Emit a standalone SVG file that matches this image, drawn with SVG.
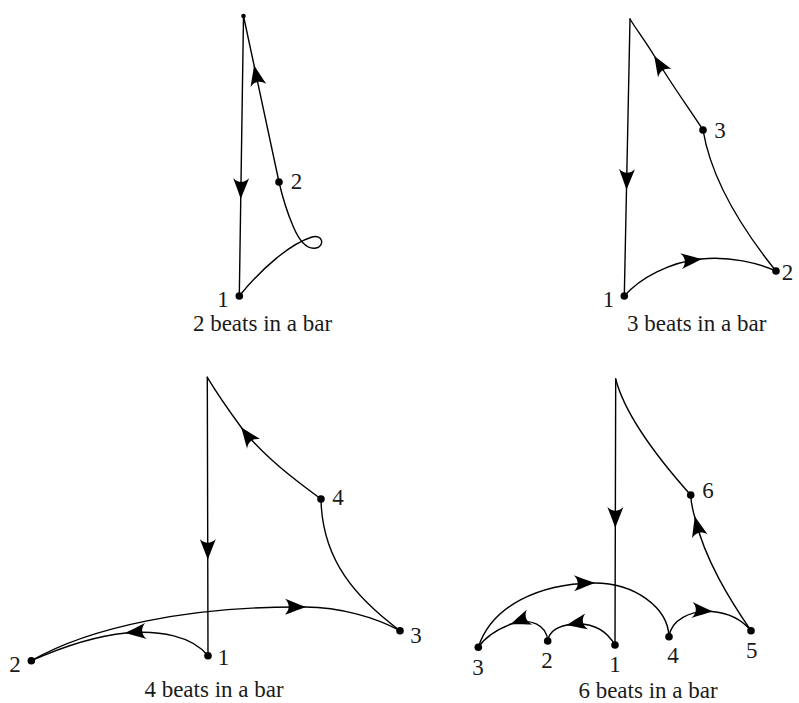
<svg xmlns="http://www.w3.org/2000/svg" width="799" height="703" viewBox="0 0 799 703">
<style>
  .c { fill: none; stroke: #000; stroke-width: 1.4; stroke-linecap: round; stroke-linejoin: round; }
  .d { fill: #000; }
  .t { font-family: "Liberation Serif", "Times New Roman", serif; font-size: 23px; fill: #1a1a1a; text-anchor: middle; }
</style>
<defs>
  <path id="ah" d="M0,0 C-6,-2 -13,-5 -21,-8 C-16,-3 -16,3 -21,8 C-13,5 -6,2 0,0 Z" fill="#000"/>
</defs>
<rect width="799" height="703" fill="#fff"/>

<!-- Connectors -->
<g id="connectors">
  <!-- 2 beats -->
  <path class="c" d="M243.5,16 L239.3,296"/>
  <path class="c" d="M239.3,296 C262,268 290,244 312,237 C323,234 325,246 316,248 C306,250 298,238 293,226 C287,212 282,195 279,182"/>
  <path class="c" d="M279,182 L243.5,16"/>
  <use href="#ah" transform="translate(240.8,199) rotate(90.9)"/>
  <use href="#ah" transform="translate(254,65) rotate(-102.1)"/>

  <!-- 3 beats -->
  <path class="c" d="M630,19 L624.3,296"/>
  <path class="c" d="M624.3,296 C640,278 670,262 701,259 C730,256 758,263 776,271"/>
  <path class="c" d="M776,271 C755,245 713,190 703,130"/>
  <path class="c" d="M703,130 C690,110 672,85 655,57 C645,40.5 636,29 630,19"/>
  <use href="#ah" transform="translate(626.5,190) rotate(91.2)"/>
  <use href="#ah" transform="translate(702,258.9) rotate(-6)"/>
  <use href="#ah" transform="translate(654,55.5) rotate(-121.3)"/>

  <!-- 4 beats -->
  <path class="c" d="M207.3,377.3 L208,655.7"/>
  <path class="c" d="M208,655.7 C192,636 160,630 126,633 C95,636 60,648 31.3,660.7"/>
  <path class="c" d="M31.3,660.7 C90,627 190,606 305,607 C340,607.3 375,617 400,630.7"/>
  <path class="c" d="M400,630.7 C356,598 322,560 321,499"/>
  <path class="c" d="M321,499 C295,480 262,455 241.7,428 C230,412 218,395 207.3,377.3"/>
  <use href="#ah" transform="translate(207.8,560) rotate(90)"/>
  <use href="#ah" transform="translate(125,633.1) rotate(174.5)"/>
  <use href="#ah" transform="translate(306,607) rotate(0.5)"/>
  <use href="#ah" transform="translate(241,427) rotate(-126.6)"/>

  <!-- 6 beats -->
  <path class="c" d="M615.7,379 L615,645"/>
  <path class="c" d="M615,645 C605,628 590,621 567,625 C557,627 549,632 547.7,641"/>
  <path class="c" d="M547.7,641 C547,625 530,617 511,624 C498,629 485,637 478.3,647.3"/>
  <path class="c" d="M478.3,647.3 C492,605 540,584 593,583 C635,582.5 668,608 669,636.7"/>
  <path class="c" d="M669,636.7 C671,620 690,610 711.7,611.5 C730,613 743,621 751,630.7"/>
  <path class="c" d="M751,630.7 C730,600 705,560 695,518 C692,508 691,502 690.7,495"/>
  <path class="c" d="M690.7,495 C655,455 625,415 615.7,379"/>
  <use href="#ah" transform="translate(615.3,528) rotate(90.2)"/>
  <use href="#ah" transform="translate(566,625.2) rotate(169.5)"/>
  <use href="#ah" transform="translate(510,624.4) rotate(159.5)"/>
  <use href="#ah" transform="translate(595,583) rotate(-1)"/>
  <use href="#ah" transform="translate(713,611.6) rotate(4.3)"/>
  <use href="#ah" transform="translate(694.7,516) rotate(-104)"/>
</g>

<!-- 2 beats nodes -->
<g id="p2-top"><circle class="d" cx="243.5" cy="16" r="2.3"/></g>
<g id="p2-n1"><circle class="d" cx="239.3" cy="296" r="3.8"/><text class="t" x="223" y="307">1</text></g>
<g id="p2-n2"><circle class="d" cx="279" cy="182" r="3.8"/><text class="t" x="296.5" y="189">2</text></g>
<text class="t" x="262.5" y="331">2 beats in a bar</text>

<!-- 3 beats nodes -->
<g id="p3-n1"><circle class="d" cx="624.3" cy="296" r="3.8"/><text class="t" x="608.5" y="306.5">1</text></g>
<g id="p3-n2"><circle class="d" cx="776" cy="271" r="3.8"/><text class="t" x="787.5" y="280">2</text></g>
<g id="p3-n3"><circle class="d" cx="703" cy="130" r="3.8"/><text class="t" x="720" y="138">3</text></g>
<text class="t" x="696.7" y="331">3 beats in a bar</text>

<!-- 4 beats nodes -->
<g id="p4-n1"><circle class="d" cx="208" cy="655.7" r="3.8"/><text class="t" x="223.5" y="665">1</text></g>
<g id="p4-n2"><circle class="d" cx="31.3" cy="660.7" r="3.8"/><text class="t" x="15" y="671.5">2</text></g>
<g id="p4-n3"><circle class="d" cx="400" cy="630.7" r="3.8"/><text class="t" x="416" y="643">3</text></g>
<g id="p4-n4"><circle class="d" cx="321" cy="499" r="3.8"/><text class="t" x="338" y="505">4</text></g>
<text class="t" x="214" y="697">4 beats in a bar</text>

<!-- 6 beats nodes -->
<g id="p6-n1"><circle class="d" cx="615" cy="645" r="3.8"/><text class="t" x="615" y="671.5">1</text></g>
<g id="p6-n2"><circle class="d" cx="547.7" cy="641" r="3.8"/><text class="t" x="547" y="668">2</text></g>
<g id="p6-n3"><circle class="d" cx="478.3" cy="647.3" r="3.8"/><text class="t" x="478" y="675">3</text></g>
<g id="p6-n4"><circle class="d" cx="669" cy="636.7" r="3.8"/><text class="t" x="673" y="663">4</text></g>
<g id="p6-n5"><circle class="d" cx="751" cy="630.7" r="3.8"/><text class="t" x="751.7" y="658">5</text></g>
<g id="p6-n6"><circle class="d" cx="690.7" cy="495" r="3.8"/><text class="t" x="708" y="498">6</text></g>
<text class="t" x="648" y="698">6 beats in a bar</text>
</svg>
